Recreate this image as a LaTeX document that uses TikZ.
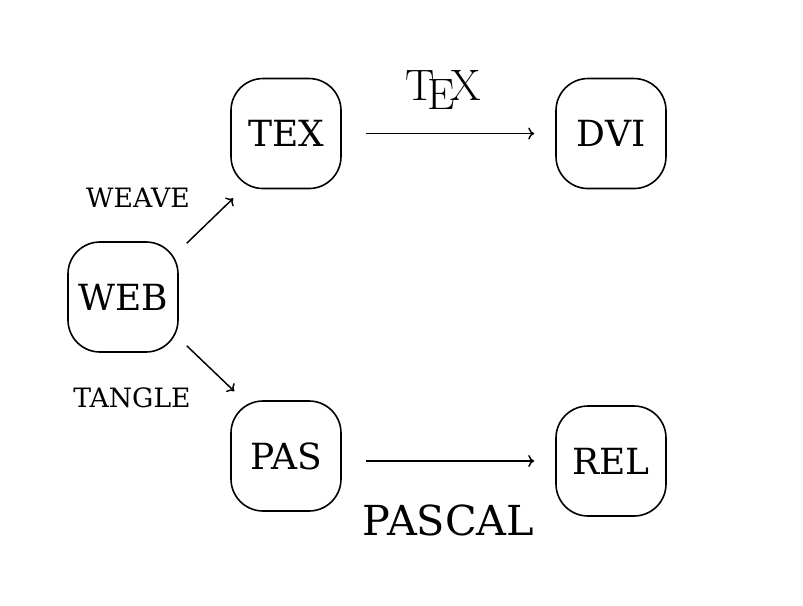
\documentclass[tikz,border=0pt]{standalone}
\usepackage{fontspec}
\newfontfamily\dejavuserif{DejaVu Serif}
\usetikzlibrary{positioning, arrows.meta}
\tikzset {
    box/.style={draw, rounded corners=24pt, minimum size=82.5pt, inner sep=0pt,
        line width=1.2pt, font=\dejavuserif\fontsize{27}{30}\selectfont},
    flow/.style={-{To[length=4.5pt,width=9pt]}, line width=1.1pt},
    tool label/.style={font=\dejavuserif\fontsize{20}{24}\selectfont},
    big label/.style={font=\dejavuserif\fontsize{31}{34}\selectfont}
}

\begin{document}
\begin{tikzpicture}[x=0.75pt, y=-0.75pt, on grid]
    \useasboundingbox (0,0) rectangle (803,606);

    \node[box] (web) at (123,297) {WEB};
    \node[box, above right=122.6pt and 122.25pt of web] (tex) {TEX};
    \node[box, right=243.75pt of tex] (dvi) {DVI};
    \node[box, below right=119.25pt and 122.25pt of web] (pas) {PAS};
    \node[box, below right=3.75pt and 243.75pt of pas] (rel) {REL};

    \node[tool label, above right=74.25pt and 11.25pt of web] (weave) {WEAVE};
    \node[tool label, below right=75.75pt and 6.75pt of web] (tangle) {TANGLE};

    \draw[flow] ([xshift=6pt, yshift=-1.5pt]web.north east)
        -- ([xshift=2.25pt, yshift=-6.75pt]tex.south west);
    \draw[flow] ([xshift=6pt, yshift=5.25pt]web.south east)
        -- ([xshift=3pt, yshift=6.75pt]pas.north west);
    \draw[flow, shorten <=18pt, shorten >=15.75pt] (tex) --
        node[xshift=-4pt, yshift=32.6pt, font=\fontsize{33}{36}\selectfont] (texlogo) {\TeX} (dvi);
    \draw[flow, shorten <=18pt, shorten >=15.75pt] (pas.east |- rel.west) --
        node[big label, yshift=-44.25pt] (pascal) {PASCAL} (rel.west);
\end{tikzpicture}
\end{document}
